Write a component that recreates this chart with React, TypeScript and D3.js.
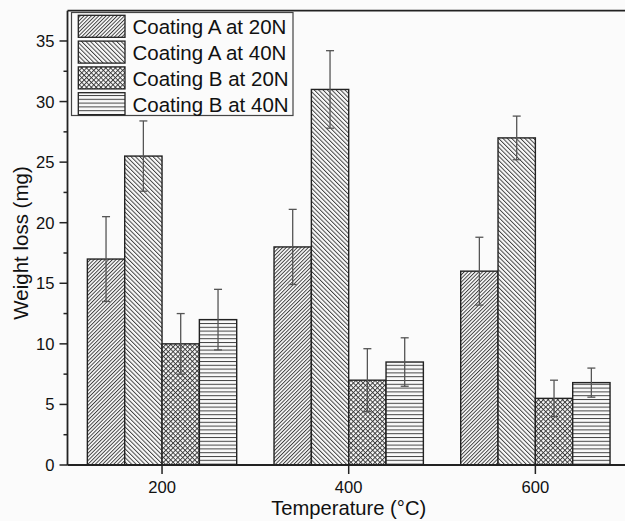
import React from "react";
import * as d3 from "d3";

const temperatures = [200, 400, 600];
const seriesNames = ["Coating A at 20N", "Coating A at 40N", "Coating B at 20N", "Coating B at 40N"];
const coatingA20 = [17, 18, 16];
const coatingA40 = [25.5, 31, 27];
const coatingB20 = [10, 7, 5.5];
const coatingB40 = [12, 8.5, 6.8];
const errA20 = [3.5, 3.1, 2.8];
const errA40 = [2.9, 3.2, 1.8];
const errB20 = [2.5, 2.6, 1.5];
const errB40 = [2.5, 2.0, 1.2];
const yTicks = [0, 5, 10, 15, 20, 25, 30, 35];

const W = 625;
const H = 521;

export default function App() {
  const x = d3.scaleLinear().domain([100, 700]).range([68.7, 628.7]);
  const y = d3.scaleLinear().domain([0, 37.5]).range([465, 10.7]);
  const values = [coatingA20, coatingA40, coatingB20, coatingB40];
  const errs = [errA20, errA40, errB20, errB40];
  const offsets = [-80, -40, 0, 40];
  const barW = 40;
  const patterns = ["pA20", "pA40", "pB20", "pB40"];
  const minor = d3.range(2.5, 37.5, 5);
  const axisX = 67.5;
  const font = "Arial, 'Liberation Sans', sans-serif";

  return (
    <svg width={W} height={H} style={{ position: "absolute", left: 0, top: 0, background: "#fbfbfb" }}>
      <defs>
        <pattern id="pA20" width="2.6" height="6" patternUnits="userSpaceOnUse" patternTransform="rotate(45)">
          <rect width="2.6" height="6" fill="#fafafa" />
          <line x1="0.5" y1="0" x2="0.5" y2="6" stroke="#333" strokeWidth="0.9" />
        </pattern>
        <pattern id="pA40" width="3.1" height="6" patternUnits="userSpaceOnUse" patternTransform="rotate(-45)">
          <rect width="3.1" height="6" fill="#fafafa" />
          <line x1="0.5" y1="0" x2="0.5" y2="6" stroke="#333" strokeWidth="0.9" />
        </pattern>
        <pattern id="pB20" width="3.4" height="3.4" patternUnits="userSpaceOnUse" patternTransform="rotate(45)">
          <rect width="3.4" height="3.4" fill="#fafafa" />
          <line x1="0.5" y1="0" x2="0.5" y2="3.4" stroke="#333" strokeWidth="0.9" />
          <line x1="0" y1="0.5" x2="3.4" y2="0.5" stroke="#333" strokeWidth="0.9" />
        </pattern>
        <pattern id="pB40" width="6" height="3.8" patternUnits="userSpaceOnUse">
          <rect width="6" height="3.8" fill="#fafafa" />
          <line x1="0" y1="0.5" x2="6" y2="0.5" stroke="#444" strokeWidth="1" />
        </pattern>
      </defs>

      {/* bars */}
      {values.map((vals, si) =>
        vals.map((v, ci) => {
          const x0 = x(temperatures[ci] + offsets[si]);
          const x1 = x(temperatures[ci] + offsets[si] + barW);
          return (
            <rect
              key={`b${si}-${ci}`}
              x={x0}
              y={y(v)}
              width={x1 - x0}
              height={y(0) - y(v)}
              fill={`url(#${patterns[si]})`}
              stroke="#222"
              strokeWidth={1.4}
            />
          );
        })
      )}

      {/* error bars */}
      {values.map((vals, si) =>
        vals.map((v, ci) => {
          const cx = x(temperatures[ci] + offsets[si] + barW / 2);
          const e = errs[si][ci];
          const top = y(v + e);
          const bot = y(v - e);
          return (
            <g key={`e${si}-${ci}`} stroke="#555" strokeWidth={1.3}>
              <line x1={cx} x2={cx} y1={top} y2={bot} />
              <line x1={cx - 4} x2={cx + 4} y1={top} y2={top} />
              <line x1={cx - 4} x2={cx + 4} y1={bot} y2={bot} />
            </g>
          );
        })
      )}

      {/* axes */}
      <line x1={axisX} x2={W} y1={y(0)} y2={y(0)} stroke="#222" strokeWidth={1.8} />
      <line x1={axisX} x2={W} y1={y(37.5)} y2={y(37.5)} stroke="#222" strokeWidth={1.8} />
      <line x1={axisX} x2={axisX} y1={y(0)} y2={y(37.5)} stroke="#222" strokeWidth={1.8} />

      {yTicks.map((t) => (
        <g key={`yt${t}`}>
          <line x1={axisX - 8} x2={axisX} y1={y(t)} y2={y(t)} stroke="#222" strokeWidth={1.5} />
          <text x={axisX - 13} y={y(t)} dy="0.36em" textAnchor="end" fontSize={16.6} fontFamily={font} fill="#111">
            {t}
          </text>
        </g>
      ))}
      {minor.map((t) => (
        <line key={`ym${t}`} x1={axisX - 4} x2={axisX} y1={y(t)} y2={y(t)} stroke="#222" strokeWidth={1.5} />
      ))}

      {temperatures.map((t) => (
        <g key={`xt${t}`}>
          <line x1={x(t)} x2={x(t)} y1={y(0)} y2={y(0) + 9} stroke="#222" strokeWidth={1.5} />
          <text x={x(t)} y={492.5} textAnchor="middle" fontSize={16.6} fontFamily={font} fill="#111">
            {t}
          </text>
        </g>
      ))}

      <text x={x(400)} y={515} textAnchor="middle" fontSize={20.2} fontFamily={font} fill="#111">
        Temperature (°C)
      </text>
      <text
        transform={`translate(28, ${243}) rotate(-90)`}
        textAnchor="middle"
        fontSize={20.5}
        fontFamily={font}
        fill="#111"
      >
        Weight loss (mg)
      </text>

      {/* legend */}
      <rect x={71.5} y={12.5} width={221.5} height={103} fill="#fbfbfb" stroke="#444" strokeWidth={1.2} />
      {seriesNames.map((name, i) => (
        <g key={name}>
          <rect
            x={78.3}
            y={15.3 + i * 25.8}
            width={46.7}
            height={22}
            fill={`url(#${patterns[i]})`}
            stroke="#222"
            strokeWidth={1.3}
          />
          <text x={132.5} y={34.3 + i * 25.8} fontSize={20.5} fontFamily={font} fill="#111">
            {name}
          </text>
        </g>
      ))}
    </svg>
  );
}
